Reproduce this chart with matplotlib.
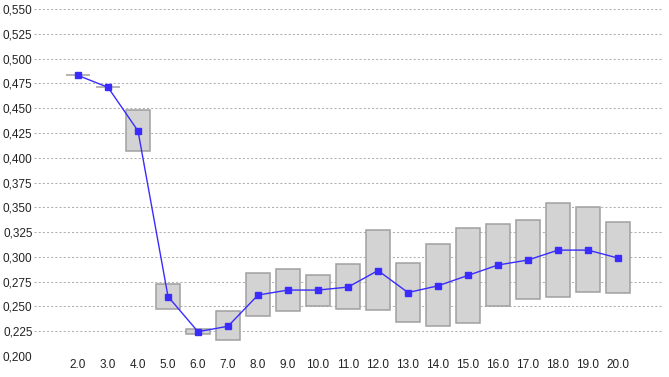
import matplotlib
matplotlib.use("Agg")
import matplotlib.pyplot as plt
from matplotlib.ticker import FuncFormatter

plt.rcParams['font.family'] = ['Liberation Sans', 'DejaVu Sans']
plt.rcParams['lines.scale_dashes'] = False

categories = [2.0, 3.0, 4.0, 5.0, 6.0, 7.0, 8.0, 9.0, 10.0, 11.0, 12.0, 13.0, 14.0,
              15.0, 16.0, 17.0, 18.0, 19.0, 20.0]
mean_vals = [0.483, 0.471, 0.427, 0.260, 0.2245, 0.230, 0.2615, 0.2665, 0.2665, 0.2695,
             0.2862, 0.264, 0.2708, 0.2813, 0.2918, 0.2968, 0.3068, 0.3068, 0.2988]
low_vals = [0.483, 0.471, 0.407, 0.247, 0.2222, 0.2158, 0.240, 0.2454, 0.2507, 0.2471,
            0.2461, 0.234, 0.2303, 0.2336, 0.2504, 0.2572, 0.2598, 0.2642, 0.2632]
high_vals = [0.483, 0.471, 0.4484, 0.2726, 0.2272, 0.2451, 0.2834, 0.2874, 0.282, 0.2925,
             0.3268, 0.2939, 0.3127, 0.3291, 0.3334, 0.3375, 0.354, 0.3506, 0.3348]
y_ticks = [0.200, 0.225, 0.250, 0.275, 0.300, 0.325, 0.350, 0.375, 0.400, 0.425,
           0.450, 0.475, 0.500, 0.525, 0.550]

fig = plt.figure(figsize=(6.69, 3.77), dpi=100)
ax = fig.add_axes([34/669, 21/377, (662-34)/669, (356-9)/377])

heights = [h - l for h, l in zip(high_vals, low_vals)]
ax.bar(categories, heights, bottom=low_vals, width=0.77, color='#d3d3d3',
       edgecolor='#a0a0a0', linewidth=1.1, zorder=2)
ax.plot(categories, mean_vals, color='#3a2cff', linewidth=1.0, marker='s',
        markersize=5, markerfacecolor='#3a2cff', markeredgecolor='#3a2cff', zorder=3)

ax.set_xlim(0.533, 21.467)
ax.set_ylim(0.2, 0.55)
ax.set_xticks(categories)
ax.set_xticklabels([f"{c:.1f}" for c in categories])
ax.set_yticks(y_ticks)
ax.yaxis.set_major_formatter(FuncFormatter(lambda v, p: f"{v:.3f}".replace('.', ',')))
ax.grid(axis='y', color='#b0b0b0', linestyle=(0, (1.5, 1.5)), linewidth=0.75, zorder=0)
ax.set_axisbelow(True)
for s in ax.spines.values():
    s.set_visible(False)
ax.tick_params(axis='both', length=0, labelsize=8.5, colors='#222222', pad=2)
ax.tick_params(axis='y', pad=1)

fig.savefig('out.png', dpi=100)
